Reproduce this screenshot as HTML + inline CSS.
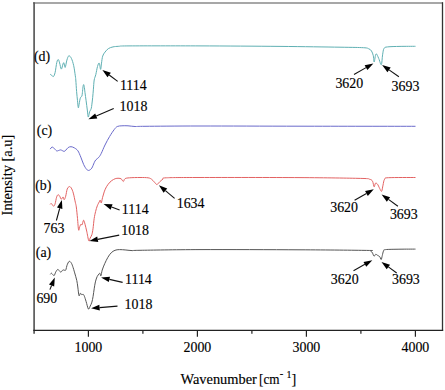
<!DOCTYPE html>
<html><head><meta charset="utf-8"><style>
html,body{margin:0;padding:0;background:#fff;width:445px;height:390px;overflow:hidden}
svg{display:block;font-family:"Liberation Serif",serif;fill:#000}
text{fill:#000;stroke:#000;stroke-width:0.15px}
</style></head><body>
<svg width="445" height="390" viewBox="0 0 445 390">
<rect width="445" height="390" fill="#fff"/>
<line x1="33" y1="3" x2="443" y2="3" stroke="#8a8a8a" stroke-width="1.5"/>
<line x1="34.1" y1="2.3" x2="34.1" y2="333.8" stroke="#5a5a5a" stroke-width="1.7"/>
<line x1="442.5" y1="2.3" x2="442.5" y2="330.5" stroke="#333" stroke-width="1.3"/>
<line x1="33.3" y1="330.3" x2="443.2" y2="330.3" stroke="#222" stroke-width="1.3"/>
<line x1="88.40" y1="330" x2="88.40" y2="336.8" stroke="#222" stroke-width="1.2"/>
<line x1="197.40" y1="330" x2="197.40" y2="336.8" stroke="#222" stroke-width="1.2"/>
<line x1="306.40" y1="330" x2="306.40" y2="336.8" stroke="#222" stroke-width="1.2"/>
<line x1="415.40" y1="330" x2="415.40" y2="336.8" stroke="#222" stroke-width="1.2"/>
<line x1="142.90" y1="330" x2="142.90" y2="333.8" stroke="#222" stroke-width="1.2"/>
<line x1="251.90" y1="330" x2="251.90" y2="333.8" stroke="#222" stroke-width="1.2"/>
<line x1="360.90" y1="330" x2="360.90" y2="333.8" stroke="#222" stroke-width="1.2"/>
<path d="M50.10 74.20 C50.37 74.38 51.15 74.90 51.70 75.30 C52.25 75.70 52.83 77.07 53.40 76.60 C53.97 76.13 54.53 74.87 55.10 72.50 C55.67 70.13 56.27 64.55 56.80 62.40 C57.33 60.25 57.83 59.52 58.30 59.60 C58.77 59.68 59.10 61.32 59.60 62.90 C60.10 64.48 60.73 68.92 61.30 69.10 C61.87 69.28 62.57 65.03 63.00 64.00 C63.43 62.97 63.53 62.33 63.90 62.90 C64.27 63.47 64.70 67.87 65.20 67.40 C65.70 66.93 66.30 62.03 66.90 60.10 C67.50 58.17 68.05 56.08 68.80 55.80 C69.55 55.52 70.58 56.75 71.40 58.40 C72.22 60.05 73.05 62.80 73.70 65.70 C74.35 68.60 74.95 73.42 75.30 75.80 C75.65 78.18 75.58 77.38 75.80 80.00 C76.02 82.62 76.32 88.05 76.60 91.50 C76.88 94.95 77.22 98.00 77.50 100.70 C77.78 103.40 78.05 107.02 78.30 107.70 C78.55 108.38 78.75 106.05 79.00 104.80 C79.25 103.55 79.57 101.35 79.80 100.20 C80.03 99.05 80.17 98.48 80.40 97.90 C80.63 97.32 80.95 97.00 81.20 96.70 C81.45 96.40 81.70 96.77 81.90 96.10 C82.10 95.43 82.22 94.23 82.40 92.70 C82.58 91.17 82.80 88.25 83.00 86.90 C83.20 85.55 83.40 84.70 83.60 84.60 C83.80 84.50 83.97 84.95 84.20 86.30 C84.43 87.65 84.68 90.30 85.00 92.70 C85.32 95.10 85.72 97.82 86.10 100.70 C86.48 103.58 86.95 107.30 87.30 110.00 C87.65 112.70 87.92 116.13 88.20 116.90 C88.48 117.67 88.77 115.47 89.00 114.60 C89.23 113.73 89.35 112.43 89.60 111.70 C89.85 110.97 90.22 110.78 90.50 110.20 C90.78 109.62 91.07 109.20 91.30 108.20 C91.53 107.20 91.67 106.02 91.90 104.20 C92.13 102.38 92.45 99.80 92.70 97.30 C92.95 94.80 93.15 92.08 93.40 89.20 C93.65 86.32 93.80 82.43 94.20 80.00 C94.60 77.57 95.25 76.85 95.80 74.60 C96.35 72.35 96.93 68.42 97.50 66.50 C98.07 64.58 98.68 62.62 99.20 63.10 C99.72 63.58 100.22 69.40 100.60 69.40 C100.98 69.40 101.15 65.32 101.50 63.10 C101.85 60.88 102.12 57.93 102.70 56.10 C103.28 54.27 104.05 53.35 105.00 52.10 C105.95 50.85 107.07 49.47 108.40 48.60 C109.73 47.73 111.27 47.28 113.00 46.90 C114.73 46.52 115.97 46.47 118.80 46.30 C121.63 46.13 116.47 45.97 130.00 45.90 C143.53 45.83 175.00 45.82 200.00 45.90 C225.00 45.98 256.67 46.18 280.00 46.40 C303.33 46.62 326.10 46.98 340.00 47.20 C353.90 47.42 358.60 47.43 363.40 47.70 C368.20 47.97 367.45 48.25 368.80 48.80 C370.15 49.35 370.75 49.85 371.50 51.00 C372.25 52.15 372.85 53.87 373.30 55.70 C373.75 57.53 373.75 62.30 374.20 62.00 C374.65 61.70 375.25 54.50 376.00 53.90 C376.75 53.30 377.82 56.60 378.70 58.40 C379.58 60.20 380.65 65.30 381.30 64.70 C381.95 64.10 382.15 57.50 382.60 54.80 C383.05 52.10 383.17 49.82 384.00 48.50 C384.83 47.18 384.93 47.25 387.60 46.90 C390.27 46.55 395.35 46.50 400.00 46.40 C404.65 46.30 412.92 46.32 415.50 46.30" fill="none" stroke="#5fb0b3" stroke-width="1.0" stroke-linejoin="round"/>
<path d="M50.20 149.10 C50.48 148.77 51.32 147.30 51.90 147.10 C52.48 146.90 52.93 147.28 53.70 147.90 C54.47 148.52 55.73 150.35 56.50 150.80 C57.27 151.25 57.62 150.75 58.30 150.60 C58.98 150.45 59.93 149.90 60.60 149.90 C61.27 149.90 61.72 150.35 62.30 150.60 C62.88 150.85 63.52 151.47 64.10 151.40 C64.68 151.33 65.13 150.83 65.80 150.20 C66.47 149.57 67.23 148.18 68.10 147.60 C68.97 147.02 69.95 146.65 71.00 146.70 C72.05 146.75 73.25 147.22 74.40 147.90 C75.55 148.58 76.83 149.27 77.90 150.80 C78.97 152.33 79.83 154.80 80.80 157.10 C81.77 159.40 82.73 162.57 83.70 164.60 C84.67 166.63 85.73 168.33 86.60 169.30 C87.47 170.27 88.03 170.60 88.90 170.40 C89.77 170.20 90.92 169.38 91.80 168.10 C92.68 166.82 93.53 164.07 94.20 162.70 C94.87 161.33 95.03 160.80 95.80 159.90 C96.57 159.00 97.90 158.37 98.80 157.30 C99.70 156.23 100.17 155.55 101.20 153.50 C102.23 151.45 103.60 147.83 105.00 145.00 C106.40 142.17 108.07 139.07 109.60 136.50 C111.13 133.93 112.92 131.27 114.20 129.60 C115.48 127.93 116.02 127.13 117.30 126.50 C118.58 125.87 120.12 125.92 121.90 125.80 C123.68 125.68 125.82 125.68 128.00 125.80 C130.18 125.92 132.17 126.42 135.00 126.50 C137.83 126.58 134.17 126.38 145.00 126.30 C155.83 126.22 174.17 126.02 200.00 126.00 C225.83 125.98 264.08 126.15 300.00 126.20 C335.92 126.25 396.25 126.28 415.50 126.30" fill="none" stroke="#6a6acb" stroke-width="1.0" stroke-linejoin="round"/>
<path d="M50.10 204.30 C50.30 204.17 50.80 203.25 51.30 203.50 C51.80 203.75 52.67 205.37 53.10 205.80 C53.53 206.23 53.57 206.43 53.90 206.10 C54.23 205.77 54.65 205.28 55.10 203.80 C55.55 202.32 56.10 198.72 56.60 197.20 C57.10 195.68 57.58 194.87 58.10 194.70 C58.62 194.53 59.18 195.45 59.70 196.20 C60.22 196.95 60.75 198.95 61.20 199.20 C61.65 199.45 62.07 198.07 62.40 197.70 C62.73 197.33 62.90 196.67 63.20 197.00 C63.50 197.33 63.78 199.83 64.20 199.70 C64.62 199.57 65.20 197.97 65.70 196.20 C66.20 194.43 66.60 190.70 67.20 189.10 C67.80 187.50 68.62 186.77 69.30 186.60 C69.98 186.43 70.63 187.02 71.30 188.10 C71.97 189.18 72.63 190.75 73.30 193.10 C73.97 195.45 74.80 199.90 75.30 202.20 C75.80 204.50 75.93 204.20 76.30 206.90 C76.67 209.60 77.12 214.55 77.50 218.40 C77.88 222.25 78.22 228.65 78.60 230.00 C78.98 231.35 79.40 227.47 79.80 226.50 C80.20 225.53 80.62 224.48 81.00 224.20 C81.38 223.92 81.67 225.47 82.10 224.80 C82.53 224.13 83.12 220.30 83.60 220.20 C84.08 220.10 84.48 222.38 85.00 224.20 C85.52 226.02 86.07 228.32 86.70 231.10 C87.33 233.88 88.22 239.75 88.80 240.90 C89.38 242.05 89.68 239.05 90.20 238.00 C90.72 236.95 91.43 236.13 91.90 234.60 C92.37 233.07 92.62 231.50 93.00 228.80 C93.38 226.10 93.77 221.28 94.20 218.40 C94.63 215.52 95.08 213.60 95.60 211.50 C96.12 209.40 96.63 207.52 97.30 205.80 C97.97 204.08 99.12 202.13 99.60 201.20 C100.08 200.27 99.92 199.92 100.20 200.20 C100.48 200.48 100.92 203.32 101.30 202.90 C101.68 202.48 102.02 199.53 102.50 197.70 C102.98 195.87 103.53 193.73 104.20 191.90 C104.87 190.07 105.53 188.33 106.50 186.70 C107.47 185.07 108.83 183.30 110.00 182.10 C111.17 180.90 112.35 180.13 113.50 179.50 C114.65 178.87 115.65 178.43 116.90 178.30 C118.15 178.17 119.93 178.17 121.00 178.70 C122.07 179.23 122.63 181.50 123.30 181.50 C123.97 181.50 123.95 179.32 125.00 178.70 C126.05 178.08 127.10 178.00 129.60 177.80 C132.10 177.60 136.92 177.50 140.00 177.50 C143.08 177.50 146.18 177.52 148.10 177.80 C150.02 178.08 150.48 178.52 151.50 179.20 C152.52 179.88 153.30 181.02 154.20 181.90 C155.10 182.78 156.00 184.50 156.90 184.50 C157.80 184.50 158.60 182.78 159.60 181.90 C160.60 181.02 161.78 179.88 162.90 179.20 C164.02 178.52 160.12 178.08 166.30 177.80 C172.48 177.52 177.72 177.53 200.00 177.50 C222.28 177.47 273.28 177.45 300.00 177.60 C326.72 177.75 348.73 178.13 360.30 178.40 C371.87 178.67 367.37 178.73 369.40 179.20 C371.43 179.67 371.72 179.93 372.50 181.20 C373.28 182.47 373.60 186.47 374.10 186.80 C374.60 187.13 374.93 183.63 375.50 183.20 C376.07 182.77 376.82 183.35 377.50 184.20 C378.18 185.05 378.92 187.12 379.60 188.30 C380.28 189.48 381.03 191.82 381.60 191.30 C382.17 190.78 382.50 187.22 383.00 185.20 C383.50 183.18 383.65 180.45 384.60 179.20 C385.55 177.95 383.55 177.98 388.70 177.70 C393.85 177.42 411.03 177.53 415.50 177.50" fill="none" stroke="#e36262" stroke-width="1.0" stroke-linejoin="round"/>
<path d="M50.30 274.30 C50.48 274.12 51.00 273.17 51.40 273.20 C51.80 273.23 52.23 274.12 52.70 274.50 C53.17 274.88 53.68 275.93 54.20 275.50 C54.72 275.07 55.20 272.92 55.80 271.90 C56.40 270.88 57.20 269.57 57.80 269.40 C58.40 269.23 58.88 270.43 59.40 270.90 C59.92 271.37 60.40 272.28 60.90 272.20 C61.40 272.12 61.88 270.78 62.40 270.40 C62.92 270.02 63.57 269.87 64.00 269.90 C64.43 269.93 64.67 270.68 65.00 270.60 C65.33 270.52 65.67 270.28 66.00 269.40 C66.33 268.52 66.48 266.63 67.00 265.30 C67.52 263.97 68.42 261.83 69.10 261.40 C69.78 260.97 70.50 261.88 71.10 262.70 C71.70 263.52 72.10 264.60 72.70 266.30 C73.30 268.00 74.02 270.52 74.70 272.90 C75.38 275.28 76.28 278.25 76.80 280.60 C77.32 282.95 77.43 284.48 77.80 287.00 C78.17 289.52 78.57 294.67 79.00 295.70 C79.43 296.73 79.98 293.38 80.40 293.20 C80.82 293.02 81.02 294.40 81.50 294.60 C81.98 294.80 82.82 294.12 83.30 294.40 C83.78 294.68 83.93 295.12 84.40 296.30 C84.87 297.48 85.43 299.38 86.10 301.50 C86.77 303.62 87.72 308.23 88.40 309.00 C89.08 309.77 89.62 307.25 90.20 306.10 C90.78 304.95 91.42 303.73 91.90 302.10 C92.38 300.47 92.72 298.52 93.10 296.30 C93.48 294.08 93.82 291.20 94.20 288.80 C94.58 286.40 94.92 283.92 95.40 281.90 C95.88 279.88 96.50 278.02 97.10 276.70 C97.70 275.38 98.52 274.57 99.00 274.00 C99.48 273.43 99.68 272.98 100.00 273.30 C100.32 273.62 100.53 276.43 100.90 275.90 C101.27 275.37 101.57 272.13 102.20 270.10 C102.83 268.07 103.75 265.83 104.70 263.70 C105.65 261.57 106.82 259.12 107.90 257.30 C108.98 255.48 110.02 253.97 111.20 252.80 C112.38 251.63 113.62 250.83 115.00 250.30 C116.38 249.77 117.68 249.65 119.50 249.60 C121.32 249.55 123.77 249.83 125.90 250.00 C128.03 250.17 129.95 250.55 132.30 250.60 C134.65 250.65 128.72 250.47 140.00 250.30 C151.28 250.13 173.33 249.68 200.00 249.60 C226.67 249.52 272.27 249.67 300.00 249.80 C327.73 249.93 354.67 250.23 366.40 250.40 C378.13 250.57 369.38 250.37 370.40 250.80 C371.42 251.23 371.90 252.10 372.50 253.00 C373.10 253.90 373.47 255.98 374.00 256.20 C374.53 256.42 375.12 254.45 375.70 254.30 C376.28 254.15 376.82 254.88 377.50 255.30 C378.18 255.72 379.18 256.10 379.80 256.80 C380.42 257.50 380.78 259.72 381.20 259.50 C381.62 259.28 381.92 256.92 382.30 255.50 C382.68 254.08 382.97 251.98 383.50 251.00 C384.03 250.02 382.75 249.90 385.50 249.60 C388.25 249.30 395.00 249.28 400.00 249.20 C405.00 249.12 412.92 249.12 415.50 249.10" fill="none" stroke="#555" stroke-width="1.0" stroke-linejoin="round"/>
<line x1="117.70" y1="81.40" x2="109.19" y2="75.01" stroke="#111" stroke-width="1.1"/><polygon points="102.40,69.90 110.88,72.77 107.51,77.25" fill="#000"/>
<line x1="113.70" y1="108.60" x2="96.23" y2="115.99" stroke="#111" stroke-width="1.1"/><polygon points="88.40,119.30 95.14,113.41 97.32,118.57" fill="#000"/>
<line x1="354.00" y1="74.50" x2="366.02" y2="67.62" stroke="#111" stroke-width="1.1"/><polygon points="373.40,63.40 367.41,70.05 364.63,65.19" fill="#000"/>
<line x1="398.90" y1="76.80" x2="389.06" y2="69.89" stroke="#111" stroke-width="1.1"/><polygon points="382.10,65.00 390.67,67.59 387.45,72.18" fill="#000"/>
<line x1="56.40" y1="220.50" x2="59.69" y2="208.31" stroke="#111" stroke-width="1.1"/><polygon points="61.90,200.10 62.39,209.04 56.98,207.58" fill="#000"/>
<line x1="119.60" y1="209.90" x2="111.59" y2="207.00" stroke="#111" stroke-width="1.1"/><polygon points="103.60,204.10 112.55,204.36 110.64,209.63" fill="#000"/>
<line x1="119.20" y1="235.10" x2="97.74" y2="239.35" stroke="#111" stroke-width="1.1"/><polygon points="89.40,241.00 97.19,236.60 98.28,242.10" fill="#000"/>
<line x1="174.60" y1="198.30" x2="165.43" y2="190.65" stroke="#111" stroke-width="1.1"/><polygon points="158.90,185.20 167.22,188.50 163.63,192.80" fill="#000"/>
<line x1="354.60" y1="200.30" x2="366.44" y2="193.45" stroke="#111" stroke-width="1.1"/><polygon points="373.80,189.20 367.84,195.88 365.04,191.03" fill="#000"/>
<line x1="397.90" y1="206.30" x2="388.47" y2="199.41" stroke="#111" stroke-width="1.1"/><polygon points="381.60,194.40 390.12,197.15 386.81,201.67" fill="#000"/>
<line x1="49.90" y1="289.60" x2="51.59" y2="285.47" stroke="#111" stroke-width="1.1"/><polygon points="54.80,277.60 54.18,286.53 48.99,284.41" fill="#000"/>
<line x1="122.60" y1="282.40" x2="109.39" y2="279.39" stroke="#111" stroke-width="1.1"/><polygon points="101.10,277.50 110.01,276.66 108.77,282.12" fill="#000"/>
<line x1="117.50" y1="306.10" x2="99.57" y2="307.59" stroke="#111" stroke-width="1.1"/><polygon points="91.10,308.30 99.34,304.80 99.80,310.38" fill="#000"/>
<line x1="353.50" y1="270.70" x2="364.88" y2="264.34" stroke="#111" stroke-width="1.1"/><polygon points="372.30,260.20 366.24,266.79 363.51,261.90" fill="#000"/>
<line x1="396.70" y1="273.00" x2="388.36" y2="266.91" stroke="#111" stroke-width="1.1"/><polygon points="381.50,261.90 390.02,264.65 386.71,269.17" fill="#000"/>
<text id="t_1114d" transform="translate(119.90 89.60) scale(0.960 1)" font-size="14.50">1114</text>
<text id="t_1018d" transform="translate(119.60 110.70) scale(0.960 1)" font-size="14.50">1018</text>
<text id="t_3620d" transform="translate(335.40 87.80) scale(0.960 1)" font-size="14.50">3620</text>
<text id="t_3693d" transform="translate(391.60 90.50) scale(0.960 1)" font-size="14.50">3693</text>
<text id="t_763" transform="translate(43.60 232.90) scale(0.960 1)" font-size="14.50">763</text>
<text id="t_1114b" transform="translate(121.80 214.30) scale(0.960 1)" font-size="14.50">1114</text>
<text id="t_1018b" transform="translate(121.20 234.90) scale(0.960 1)" font-size="14.50">1018</text>
<text id="t_1634" transform="translate(176.70 208.00) scale(0.960 1)" font-size="14.50">1634</text>
<text id="t_3620b" transform="translate(330.20 211.80) scale(0.960 1)" font-size="14.50">3620</text>
<text id="t_3693b" transform="translate(389.90 218.70) scale(0.960 1)" font-size="14.50">3693</text>
<text id="t_690" transform="translate(36.40 303.30) scale(0.960 1)" font-size="14.50">690</text>
<text id="t_1114a" transform="translate(125.00 284.30) scale(0.960 1)" font-size="14.50">1114</text>
<text id="t_1018a" transform="translate(124.60 308.70) scale(0.960 1)" font-size="14.50">1018</text>
<text id="t_3620a" transform="translate(330.80 283.80) scale(0.960 1)" font-size="14.50">3620</text>
<text id="t_3693a" transform="translate(392.00 284.20) scale(0.960 1)" font-size="14.50">3693</text>
<text id="t_dP" transform="translate(33.90 61.30) scale(0.960 1)" font-size="14.50">(d)</text>
<text id="t_cP" transform="translate(36.80 134.70) scale(0.960 1)" font-size="14.50">(c)</text>
<text id="t_bP" transform="translate(35.20 190.30) scale(0.960 1)" font-size="14.50">(b)</text>
<text id="t_aP" transform="translate(35.80 256.50) scale(0.960 1)" font-size="14.50">(a)</text>
<text transform="translate(88.40 352.2) scale(0.960 1)" font-size="14.50" text-anchor="middle">1000</text>
<text transform="translate(197.40 352.2) scale(0.960 1)" font-size="14.50" text-anchor="middle">2000</text>
<text transform="translate(306.40 352.2) scale(0.960 1)" font-size="14.50" text-anchor="middle">3000</text>
<text transform="translate(415.40 352.2) scale(0.960 1)" font-size="14.50" text-anchor="middle">4000</text>
<text transform="translate(180.50 384.00) scale(0.960 1)" font-size="15.0">Wavenumber</text>
<text transform="translate(259.00 384.00) scale(0.880 1)" font-size="15.0">[cm</text>
<text transform="translate(279.70 376.80) scale(1.000 1)" font-size="10.4">-</text>
<text transform="translate(286.40 378.30) scale(0.960 1)" font-size="10.4">1</text>
<text transform="translate(291.60 384.00) scale(0.960 1)" font-size="15.0">]</text>
<text transform="translate(12.1 215.4) rotate(-90) scale(1 0.96)" font-size="14.4">Intensity [a.u]</text>
</svg>
</body></html>
